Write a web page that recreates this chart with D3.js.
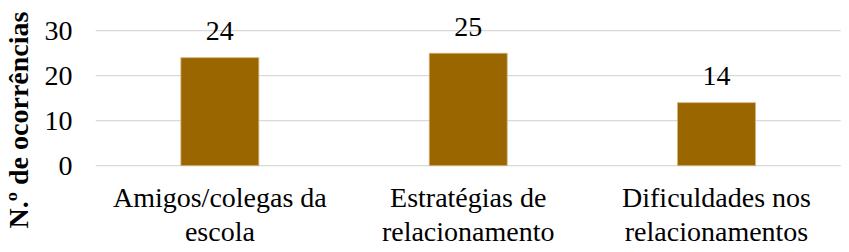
<!DOCTYPE html>
<html><head><meta charset="utf-8">
<script src="https://cdn.jsdelivr.net/npm/d3@7"></script>
<style>body{margin:0;background:#fff}svg{display:block}
svg text{font-family:"Liberation Serif","Times New Roman",Times,"DejaVu Serif",serif}</style>
</head><body>
<script>
const categories = [["Amigos/colegas da","escola"],["Estratégias de","relacionamento"],["Dificuldades nos","relacionamentos"]];
const values = [24, 25, 14];
const yTicks = [0, 10, 20, 30];
const yTitle = "N.º de ocorrências";

const W = 849, H = 252;
const m = {left: 95.7, right: 8.3, top: 30.7, bottom: 86.3};
const svg = d3.select("body").append("svg").attr("width", W).attr("height", H);

const x = d3.scaleBand().domain(d3.range(values.length)).range([m.left, W - m.right]).paddingInner(0.686).paddingOuter(0.343);
const y = d3.scaleLinear().domain([0, 30]).range([H - m.bottom, m.top]);

// gridlines
svg.append("g").selectAll("line").data(yTicks).join("line")
  .attr("x1", m.left).attr("x2", W - m.right)
  .attr("y1", d => y(d)).attr("y2", d => y(d))
  .attr("stroke", "#d9d9d9").attr("stroke-width", 1.3);

// y tick labels
svg.append("g").selectAll("text").data(yTicks).join("text")
  .attr("x", 72.5).attr("y", d => y(d)).attr("dy", "0.34em")
  .attr("text-anchor", "end").style("font-size", "28px")
  .attr("fill", "#000").text(d => d);

// bars
svg.append("g").selectAll("rect").data(values).join("rect")
  .attr("x", (d, i) => x(i)).attr("width", x.bandwidth())
  .attr("y", d => y(d)).attr("height", d => y(0) - y(d))
  .attr("fill", "#996600").attr("stroke", "#d4b480").attr("stroke-width", 0.8);

// value labels
svg.append("g").selectAll("text").data(values).join("text")
  .attr("x", (d, i) => x(i) + x.bandwidth() / 2).attr("y", d => y(d) - 17.5)
  .attr("text-anchor", "middle").style("font-size", "28px")
  .attr("fill", "#000").text(d => d);

// category labels
const cat = svg.append("g").selectAll("text").data(categories).join("text")
  .attr("text-anchor", "middle").style("font-size", "28px").attr("fill", "#000");
cat.selectAll("tspan").data((d, i) => d.map(s => ({s, i}))).join("tspan")
  .attr("x", d => x(d.i) + x.bandwidth() / 2)
  .attr("y", (d, j) => 207 + j * 33.5)
  .text(d => d.s);

// y title
svg.append("text")
  .attr("transform", `translate(27.5,${120}) rotate(-90)`)
  .attr("text-anchor", "middle").style("font-size", "28px").style("font-weight", "bold")
  .attr("fill", "#000").text(yTitle);
</script>
</body></html>
